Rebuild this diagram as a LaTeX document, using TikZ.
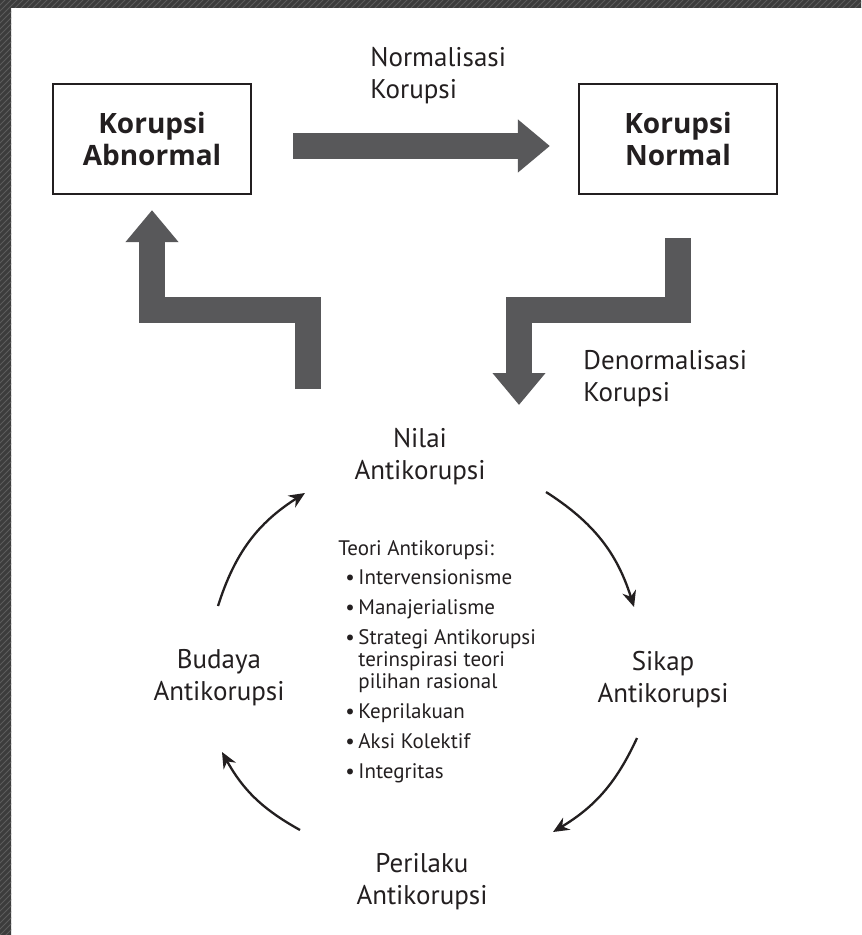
\documentclass[tikz,border=0pt]{standalone}
\usepackage{fontspec}
\setmainfont{PT Sans}
\newfontfamily\boxfont{Open Sans}
\usetikzlibrary{arrows.meta,positioning,patterns}
\definecolor{korgray}{HTML}{58585A}
\definecolor{korink}{HTML}{231F20}
\definecolor{korframe}{HTML}{3C3C3C}
\definecolor{korhatch}{HTML}{5C5C5C}
\newcommand{\itm}{\hspace*{3.5pt}\makebox[6.5pt][l]{\textbullet}}
\newcommand{\cont}{\hspace*{10pt}}

\begin{document}
\begin{tikzpicture}[
  x=0.5pt, y=-0.5pt,
  korbox/.style={rectangle, draw=korink, line width=1.1pt, minimum width=99pt,
                 minimum height=55pt, inner sep=0pt, align=center, text=korink,
                 font=\boxfont\bfseries\fontsize{14}{16}\selectfont},
  lbl/.style={align=center, inner sep=0pt, text=korink,
              font=\fontsize{13.5}{16}\selectfont},
  listtxt/.style={align=left, inner sep=0pt, text=korink,
                  font=\fontsize{10.5}{11}\selectfont},
  bigarr/.style={draw=korgray, line width=13pt, line join=miter,
                 -{Triangle[length=16pt, width=25.5pt]}},
  cyc/.style={draw=korink, line width=1.15pt, -{Stealth[length=8pt, width=7pt]}},
]
  % page and hatched frame
  \useasboundingbox (0,0) rectangle (861,935);
  \fill[white] (0,0) rectangle (861,935);
  \fill[korframe] (0,0) rectangle (11,935) (0,0) rectangle (861,8);
  \fill[pattern=north east lines, pattern color=korhatch]
    (0,0) rectangle (11,935) (0,0) rectangle (861,8);

  \node[korbox] (abn) at (152,139) {Korupsi\\Abnormal};
  \node[korbox] (nor) at (678,139) {Korupsi\\Normal};
  \node[lbl, align=left, anchor=west] (normlbl) at (370,76) {Normalisasi\\Korupsi};
  \node[lbl, align=left, anchor=west] (denormlbl) at (583,379) {Denormalisasi\\Korupsi};

  \node[lbl] (nilai) at (420,457) {Nilai\\Antikorupsi};
  \node[lbl] (sikap) at (663,680) {Sikap\\Antikorupsi};
  \node[lbl] (perilaku) at (422,882) {Perilaku\\Antikorupsi};
  \node[lbl] (budaya) at (219,678) {Budaya\\Antikorupsi};

  \node[listtxt, anchor=north west] (teori) at (338,540)
    {Teori Antikorupsi:\\[3.5pt]
     \itm Intervensionisme\\[4pt]
     \itm Manajerialisme\\[4pt]
     \itm Strategi Antikorupsi\\
     \cont terinspirasi teori\\
     \cont pilihan rasional\\[4pt]
     \itm Keprilakuan\\[4pt]
     \itm Aksi Kolektif\\[4pt]
     \itm Integritas};

  % big grey arrows
  \coordinate (upstart) at (308,389);
  \coordinate (downend) at (519,405);
  \draw[bigarr, shorten <=20.5pt, shorten >=14pt]
    ([yshift=-3.5pt]abn.east) -- ([yshift=-3.5pt]nor.west);
  \draw[bigarr, shorten >=7.5pt] (upstart) -- ++(0,-79) -| (abn.south);
  \draw[bigarr, shorten <=21.5pt] (nor.south) -- ++(0,115) -| (downend);

  % cycle
  \coordinate (n-out) at (546,492);
  \coordinate (s-in) at (634,607);
  \coordinate (s-out) at (637,738);
  \coordinate (p-in) at (553,832);
  \coordinate (p-out) at (300,830);
  \coordinate (b-in) at (222,752);
  \coordinate (b-out) at (218,606);
  \coordinate (n-in) at (305,493);
  \draw[cyc] (n-out) to[bend left=20] (s-in);
  \draw[cyc] (s-out) to[bend left=17] (p-in);
  \draw[cyc] (p-out) to[bend left=16] (b-in);
  \draw[cyc] (b-out) to[bend left=20] (n-in);
\end{tikzpicture}
\end{document}
